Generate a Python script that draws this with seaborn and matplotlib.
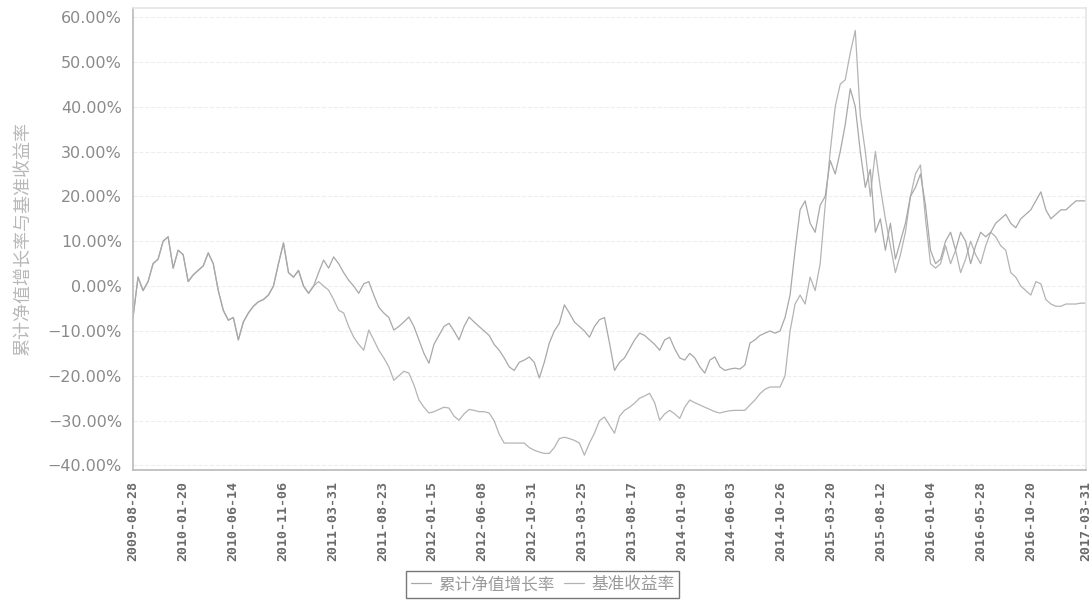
import seaborn as sns
import pandas as pd
import matplotlib.pyplot as plt
import matplotlib.dates as mdates
from matplotlib.ticker import FuncFormatter

# series names (legend)
name_a = '累计净值增长率'
name_b = '基准收益率'

start_date = '2009-08-28'
end_date = '2017-03-31'

# both curves run together until spring 2011 (values in %)
common = [-7, 2, -1, 1, 5, 6, 10, 11, 4, 8,
          7, 1, 2.5, 3.5, 4.5, 7.4, 5, -1, -5.4, -7.6,
          -7, -12, -8, -6, -4.5, -3.5, -3, -2, 0, 5,
          9.6, 3, 2, 3.5, 0, -1.6, 0]

rest_a = [3, 5.8, 4, 6.5, 5, 3, 1.3, 0, -1.6, 0.5,
          1, -2, -4.7, -6, -7, -9.8, -9, -8, -6.9, -9,
          -12, -15, -17.2, -13, -11, -9, -8.3, -10, -12, -9,
          -6.9, -8, -9, -10, -11, -13, -14.3, -16, -18, -18.8,
          -17, -16.5, -15.8, -17, -20.5, -17, -12.7, -10, -8.3, -4.2,
          -6, -8, -9, -10, -11.4, -9, -7.5, -7, -12.7, -18.8,
          -17, -16, -14, -12, -10.5, -11, -12, -13, -14.3, -12,
          -11.4, -14, -16, -16.5, -15, -16, -18, -19.4, -16.5, -15.8,
          -18, -18.8, -18.5, -18.3, -18.5, -17.6, -12.7, -12, -11, -10.5,
          -10, -10.5, -10, -7, -2, 8, 17, 19, 14, 12,
          18, 20, 28, 25, 30, 36, 44, 40, 30, 22,
          26, 12, 15, 8, 14, 6, 10, 14, 20, 22,
          25, 18, 8, 5, 6, 10, 12, 8, 12, 10,
          5, 9, 12, 11, 12, 14, 15, 16, 14, 13,
          15, 16, 17, 19, 21, 17, 15, 16, 17, 17,
          18, 19, 19, 19]

rest_b = [1, 0, -0.9, -3, -5.4, -6, -9, -11.4, -13, -14.3,
          -9.8, -12, -14.3, -16, -18, -21, -20, -19, -19.4, -22,
          -25.4, -27, -28.3, -28, -27.5, -27, -27.2, -29, -29.9, -28.5,
          -27.5, -27.7, -28, -28, -28.3, -30, -33, -35, -35, -35,
          -35, -35, -36, -36.6, -37, -37.3, -37.3, -36, -34, -33.7,
          -34, -34.4, -35, -37.7, -35, -32.8, -30, -29.2, -31, -32.8,
          -29, -27.7, -27, -26.1, -25, -24.5, -23.9, -26, -29.9, -28.5,
          -27.7, -28.5, -29.5, -27, -25.4, -26, -26.5, -27, -27.5, -28,
          -28.3, -28, -27.8, -27.7, -27.7, -27.7, -26.5, -25.4, -24, -23,
          -22.5, -22.5, -22.5, -20, -10, -4, -2, -4, 2, -1,
          5, 18, 30, 40, 45, 46, 52, 57, 38, 30,
          20, 30, 22, 15, 9, 3, 7, 12, 20, 25,
          27, 15, 5, 4, 5, 9, 5, 8, 3, 6,
          10, 7, 5, 9, 12, 11, 9, 8, 3, 2,
          0, -1, -2, 1, 0.5, -3, -4, -4.5, -4.5, -4,
          -4, -4, -3.8, -3.8]

tick_dates = ['2009-08-28', '2010-01-20', '2010-06-14', '2010-11-06', '2011-03-31',
              '2011-08-23', '2012-01-15', '2012-06-08', '2012-10-31', '2013-03-25',
              '2013-08-17', '2014-01-09', '2014-06-03', '2014-10-26', '2015-03-20',
              '2015-08-12', '2016-01-04', '2016-05-28', '2016-10-20', '2017-03-31']

series_a = common + rest_a
series_b = common + rest_b

df_a = pd.DataFrame({'date': pd.date_range(start_date, end_date, periods=len(series_a)),
                     'value': series_a})
df_b = pd.DataFrame({'date': pd.date_range(start_date, end_date, periods=len(series_b)),
                     'value': series_b})

sns.set_theme(style='white')
plt.rcParams['font.family'] = ['Noto Sans CJK SC', 'DejaVu Sans']

fig = plt.figure(figsize=(10.92, 6.01), dpi=100)
ax = fig.add_axes([0.1218, 0.218, 0.8727, 0.7687])

sns.lineplot(data=df_b, x='date', y='value', ax=ax, color='#b4b4b4', linewidth=0.9, label=name_b)
sns.lineplot(data=df_a, x='date', y='value', ax=ax, color='#a8a8a8', linewidth=0.9, label=name_a)

ax.set_xlim(pd.Timestamp(start_date), pd.Timestamp(end_date))
ax.set_ylim(-41, 62)
ax.set_yticks(range(-40, 61, 10))
ax.yaxis.set_major_formatter(FuncFormatter(lambda v, p: f'{v:.2f}%'.replace('-', '\u2212')))
ax.set_xticks([pd.Timestamp(d) for d in tick_dates])
ax.xaxis.set_major_formatter(mdates.DateFormatter('%Y-%m-%d'))

for lab in ax.get_yticklabels():
    lab.set_fontsize(11.5)
    lab.set_color('#8a8a8a')
    lab.set_family('DejaVu Sans')
for lab in ax.get_xticklabels():
    lab.set_rotation(90)
    lab.set_fontsize(9.5)
    lab.set_color('#6a6a6a')
    lab.set_family('DejaVu Sans Mono')
    lab.set_fontweight('bold')

ax.tick_params(axis='both', length=3, color='#bbbbbb', pad=5)
ax.tick_params(axis='x', pad=5)
ax.set_xlabel('')
ax.set_ylabel('累计净值增长率与基准收益率', fontsize=13, color='#b8b8b8', labelpad=11)

ax.grid(axis='y', color='#eeeeee', linestyle='--', linewidth=0.8)
for side in ['left', 'bottom']:
    ax.spines[side].set_color('#bdbdbd')
for side in ['top', 'right']:
    ax.spines[side].set_color('#e6e6e6')

ax.legend_.remove()
handles, labels = ax.get_legend_handles_labels()
order = [labels.index(name_a), labels.index(name_b)]
leg = fig.legend([handles[i] for i in order], [labels[i] for i in order],
                 loc='center', bbox_to_anchor=(0.497, 0.027), ncol=2, fontsize=12,
                 frameon=True, fancybox=False, handlelength=1.2, handletextpad=0.4,
                 columnspacing=0.6, borderpad=0.3)
leg.get_frame().set_edgecolor('#555555')
leg.get_frame().set_linewidth(1.0)
for t in leg.get_texts():
    t.set_color('#9a9a9a')

fig.savefig('out.png', dpi=100)
